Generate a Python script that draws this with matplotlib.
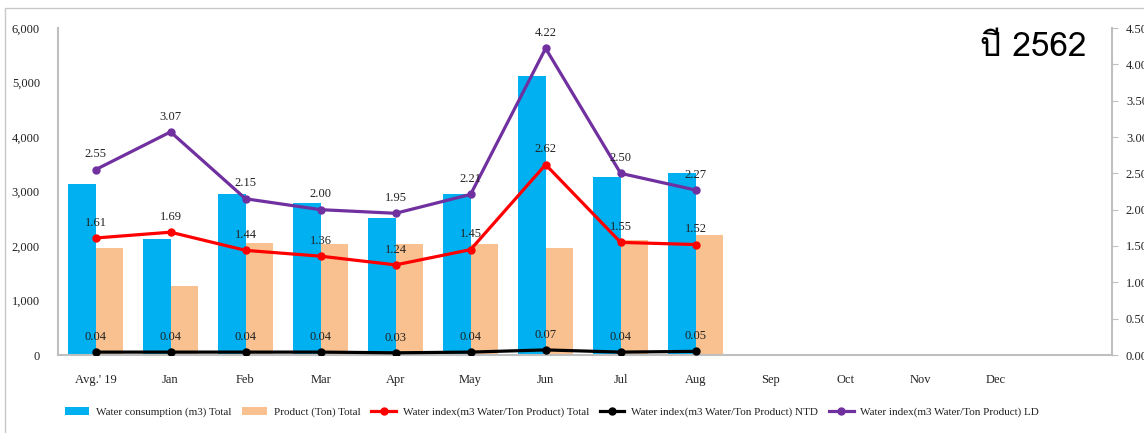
import numpy as np
import matplotlib
matplotlib.use('Agg')
import matplotlib.pyplot as plt
from matplotlib import font_manager
from matplotlib.ft2font import FT2Font
from matplotlib.patches import Rectangle
from matplotlib.ticker import FuncFormatter

# %%
# Data
months = ["Avg.' 19", 'Jan', 'Feb', 'Mar', 'Apr', 'May', 'Jun',
          'Jul', 'Aug', 'Sep', 'Oct', 'Nov', 'Dec']
water_m3 = [3130, 2130, 2960, 2780, 2520, 2960, 5120, 3270, 3340]
product_ton = [1970, 1265, 2050, 2035, 2035, 2030, 1965, 2110, 2200]
idx_total = [1.61, 1.69, 1.44, 1.36, 1.24, 1.45, 2.62, 1.55, 1.52]
idx_ntd = [0.04, 0.04, 0.04, 0.04, 0.03, 0.04, 0.07, 0.04, 0.05]
idx_ld = [2.55, 3.07, 2.15, 2.00, 1.95, 2.21, 4.22, 2.50, 2.27]
title = 'ปี 2562'


def thai_family():
    '''Find an installed font that has Thai glyphs'''
    for f in font_manager.fontManager.ttflist:
        try:
            if FT2Font(f.fname).get_char_index(0x0E1B):
                return f.name
        except Exception:
            pass
    return 'DejaVu Sans'


plt.rcParams['font.family'] = ['Liberation Serif', 'DejaVu Serif']
txt = '#222222'

# %%
fig = plt.figure(figsize=(11.44, 4.33), dpi=100)
ax = fig.add_axes([58 / 1144, 1 - 355 / 433, (1112 - 58) / 1144, (355 - 28) / 433])
ax2 = ax.twinx()

x = np.arange(len(months))
n = len(water_m3)
w = 0.37
b1 = ax.bar(x[:n] - w / 2, water_m3, w, color='#00B0F0', label='Water consumption (m3) Total')
b2 = ax.bar(x[:n] + w / 2, product_ton, w, color='#F9C18F', label='Product (Ton) Total')

# the category axis leaves room for one more (empty) slot on the right
ax.set_xlim(-0.5, 13.55)
ax.set_ylim(0, 6000)
ax.set_yticks(np.arange(0, 6001, 1000))
ax.yaxis.set_major_formatter(FuncFormatter(lambda v, p: '{:,.0f}'.format(v)))
ax.set_xticks(x)
ax.set_xticklabels(months)
ax.tick_params(axis='y', length=0, pad=13, labelsize=9, labelcolor=txt)
ax.tick_params(axis='x', length=0, pad=14, labelsize=9, labelcolor=txt)
for s in ['top', 'right']:
    ax.spines[s].set_visible(False)
for s in ['left', 'bottom']:
    ax.spines[s].set_color('#BFBFBF')
    ax.spines[s].set_linewidth(1.5)

series = [
    (idx_total, '#FF0000', 'Water index(m3 Water/Ton Product) Total'),
    (idx_ntd, '#000000', 'Water index(m3 Water/Ton Product) NTD'),
    (idx_ld, '#7030A0', 'Water index(m3 Water/Ton Product) LD'),
]
lines = []
for vals, col, lab in series:
    ln, = ax2.plot(x[:n], vals, color=col, lw=2.3, marker='o', ms=5, label=lab)
    lines.append(ln)
    for xi, v in zip(x[:n], vals):
        ax2.annotate('{:.2f}'.format(v), (xi, v), xytext=(0, 11),
                     textcoords='offset points', ha='center', va='center',
                     fontsize=9, color=txt)

ax2.set_ylim(0, 4.5)
ax2.set_yticks(np.arange(0, 4.51, 0.5))
ax2.yaxis.set_major_formatter(FuncFormatter(lambda v, p: '{:.2f}'.format(v)))
ax2.tick_params(axis='y', length=4, pad=6, labelsize=9, labelcolor=txt, color='#BFBFBF')
for s in ['top', 'left', 'bottom']:
    ax2.spines[s].set_visible(False)
ax2.spines['right'].set_color('#BFBFBF')
ax2.spines['right'].set_linewidth(1.5)

fig.text(1033 / 1144, 1 - 48 / 433, title, fontsize=24, ha='center', va='center',
         family=[thai_family(), 'DejaVu Sans'], color='#000000')

fig.legend([b1, b2] + lines, [b1.get_label(), b2.get_label()] + [l.get_label() for l in lines],
           loc='center', bbox_to_anchor=(552 / 1144, 1 - 412 / 433), ncol=5,
           frameon=False, fontsize=8, handlelength=2.2, columnspacing=1.0,
           handletextpad=0.6, labelcolor=txt)

# outer frame of the screenshot
fig.add_artist(Rectangle((5 / 1144, -0.05), 1.1, (425 / 433) + 0.05,
                         transform=fig.transFigure, fill=False,
                         edgecolor='#C8C8C8', lw=1, clip_on=False))

fig.savefig('out.png', dpi=100)
